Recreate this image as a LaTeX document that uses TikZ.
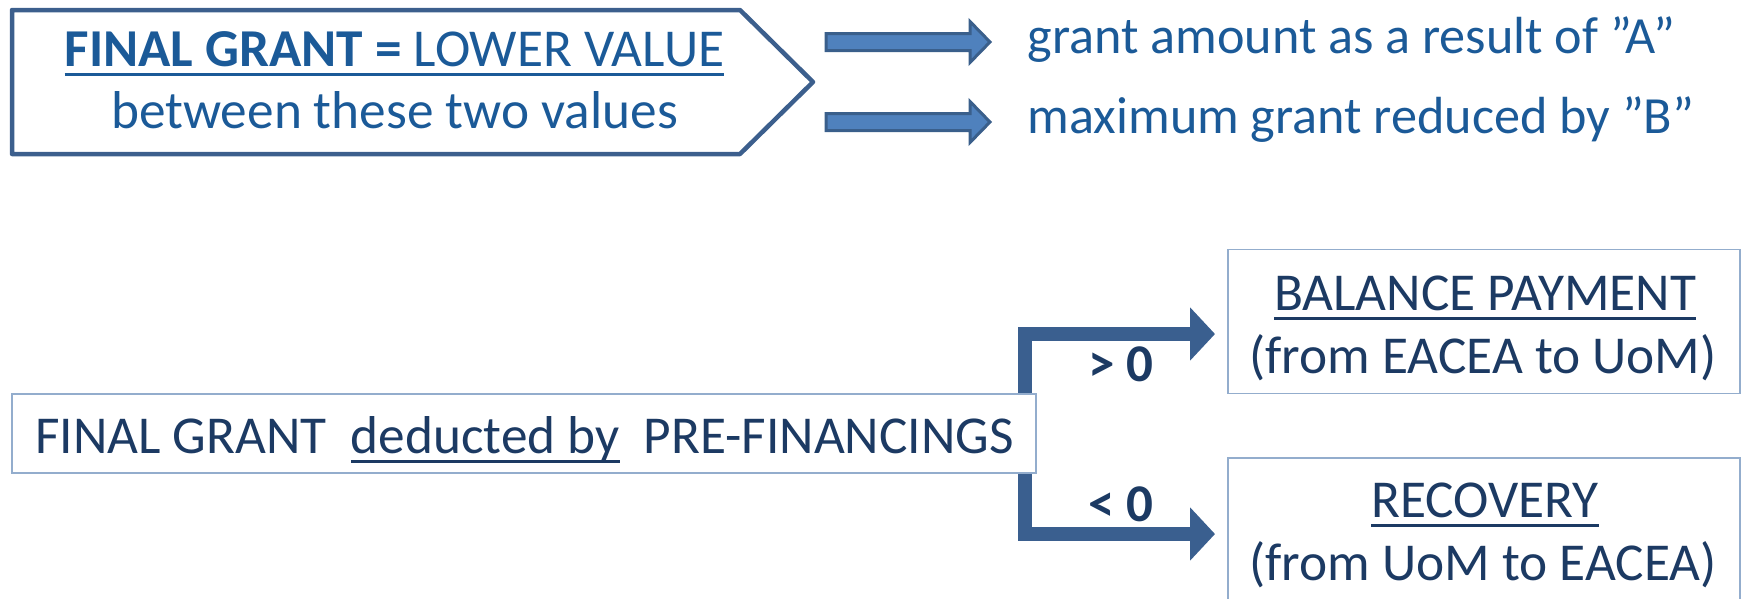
\documentclass[tikz,border=0pt]{standalone}
\usepackage{fontspec}
\setmainfont{Carlito}
\usetikzlibrary{arrows.meta,positioning}

\definecolor{frameblue}{HTML}{3C5F8D}
\definecolor{headblue}{HTML}{1B5A98}
\definecolor{arrowfill}{HTML}{4F81BD}
\definecolor{arrowline}{HTML}{3A5F8B}
\definecolor{navy}{HTML}{1C3A63}
\definecolor{boxline}{HTML}{93ADCD}
\definecolor{forkblue}{HTML}{3A5F8F}

% thick underline that follows the text width
\newcommand{\ulined}[1]{\setbox0=\hbox{#1}\rlap{\rule[-10pt]{\wd0}{3pt}}\box0}

\begin{document}
\begin{tikzpicture}[x=1pt,y=-1pt,
    headline/.style={headblue,font=\fontsize{53.3}{62}\selectfont,anchor=base},
    choice/.style={headblue,font=\fontsize{52.2}{60}\selectfont,anchor=base west},
    flowtext/.style={navy,font=\fontsize{53.3}{62}\selectfont,anchor=base},
    signtext/.style={navy,font=\bfseries\fontsize{53}{60}\selectfont,anchor=base},
    outcome/.style={draw=boxline,line width=1.6pt,fill=white,minimum width=512pt,minimum height=144pt,inner sep=0pt},
    blockarrow/.style={draw=arrowline,fill=arrowfill,line width=3pt,line join=miter},
    branch/.style={forkblue,line width=14pt,line join=miter,-{Triangle[length=25pt,width=52pt]}}]
    \clip (0,0) rectangle (1744,598);

    % rule for the final grant
    \draw[frameblue,line width=4.5pt,line join=round] (12,10) -- (740,10) -- (813,82) -- (740,154) -- (12,154) -- cycle;
    \node[headline] (rule) at (394.5,66) {\ulined{\textbf{FINAL GRANT =} LOWER VALUE}};
    \node[headline] (between) at (394.5,128) {between these two values};

    \foreach \y in {42,122}
        \draw[blockarrow] (826,\y-8.5) -- ++(144,0) -- ++(0,-12) -- ++(20,20.5) -- ++(-20,20.5) -- ++(0,-12) -- ++(-144,0) -- cycle;
    \node[choice] (valueA) at (1024,53) {grant amount as a result of ”A”};
    \node[choice] (valueB) at (1024,133) {maximum grant reduced by ”B”};

    % balance or recovery
    \coordinate (fork) at (1025,434);
    \coordinate (upper) at (1215,334);
    \coordinate (lower) at (1215,534);
    \draw[branch] (fork) |- (upper);
    \draw[branch] (fork) |- (lower);
    \node[draw=boxline,line width=1.6pt,fill=white,minimum width=1024pt,minimum height=79pt] (net) at (524,433.5) {};
    \node[flowtext] (nettext) at (524.5,453) {FINAL GRANT\ \ \ulined{deducted by}\ \ PRE-FINANCINGS};
    \node[signtext] (pos) at (1121,381) {> 0};
    \node[signtext] (neg) at (1121,521) {< 0};

    \node[outcome] (balance) at (1484,321.5) {};
    \node[flowtext] (balancetext) at (1485,310) {\ulined{BALANCE PAYMENT}};
    \node[flowtext] (balancedir) at (1483,373) {(from EACEA to UoM)};
    \node[outcome] (recovery) at (1484,530) {};
    \node[flowtext] (recoverytext) at (1485,517) {\ulined{RECOVERY}};
    \node[flowtext] (recoverydir) at (1483,580) {(from UoM to EACEA)};
\end{tikzpicture}
\end{document}
